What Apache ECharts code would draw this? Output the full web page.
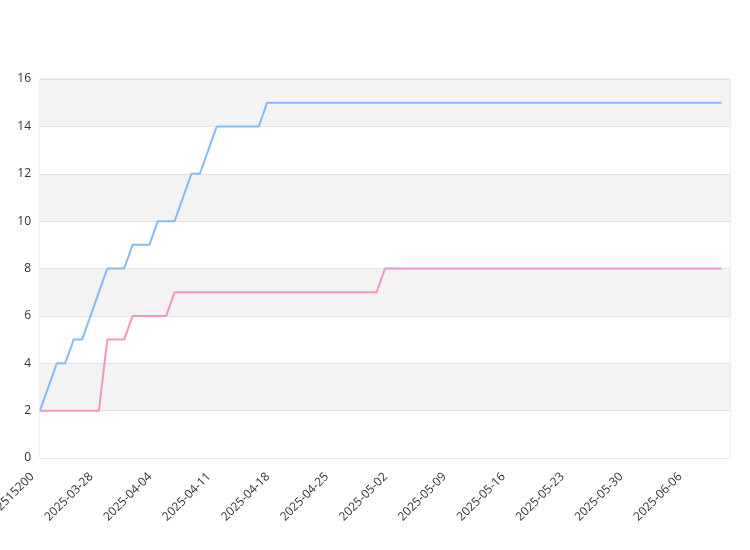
<!DOCTYPE html>
<html>
<head>
<meta charset="utf-8">
<script src="https://cdn.jsdelivr.net/npm/echarts@6/dist/echarts.min.js"></script>
<style>html,body{margin:0;padding:0;background:#fff;}#c{width:750px;height:550px;}</style>
</head>
<body>
<div id="c"></div>
<script>
var categories = [
  '1742515200','2025-03-22','2025-03-23','2025-03-24','2025-03-25','2025-03-26','2025-03-27','2025-03-28','2025-03-29','2025-03-30',
  '2025-03-31','2025-04-01','2025-04-02','2025-04-03','2025-04-04','2025-04-05','2025-04-06','2025-04-07','2025-04-08','2025-04-09',
  '2025-04-10','2025-04-11','2025-04-12','2025-04-13','2025-04-14','2025-04-15','2025-04-16','2025-04-17','2025-04-18','2025-04-19',
  '2025-04-20','2025-04-21','2025-04-22','2025-04-23','2025-04-24','2025-04-25','2025-04-26','2025-04-27','2025-04-28','2025-04-29',
  '2025-04-30','2025-05-01','2025-05-02','2025-05-03','2025-05-04','2025-05-05','2025-05-06','2025-05-07','2025-05-08','2025-05-09',
  '2025-05-10','2025-05-11','2025-05-12','2025-05-13','2025-05-14','2025-05-15','2025-05-16','2025-05-17','2025-05-18','2025-05-19',
  '2025-05-20','2025-05-21','2025-05-22','2025-05-23','2025-05-24','2025-05-25','2025-05-26','2025-05-27','2025-05-28','2025-05-29',
  '2025-05-30','2025-05-31','2025-06-01','2025-06-02','2025-06-03','2025-06-04','2025-06-05','2025-06-06','2025-06-07','2025-06-08',
  '2025-06-09','2025-06-10','2025-06-11'
];
var blueValues = [
  2,3,4,4,5,5,6,7,8,8,
  8,9,9,9,10,10,10,11,12,12,
  13,14,14,14,14,14,14,15,15,15,
  15,15,15,15,15,15,15,15,15,15,
  15,15,15,15,15,15,15,15,15,15,
  15,15,15,15,15,15,15,15,15,15,
  15,15,15,15,15,15,15,15,15,15,
  15,15,15,15,15,15,15,15,15,15,
  15,15
];
var pinkValues = [
  2,2,2,2,2,2,2,2,5,5,
  5,6,6,6,6,6,7,7,7,7,
  7,7,7,7,7,7,7,7,7,7,
  7,7,7,7,7,7,7,7,7,7,
  7,8,8,8,8,8,8,8,8,8,
  8,8,8,8,8,8,8,8,8,8,
  8,8,8,8,8,8,8,8,8,8,
  8,8,8,8,8,8,8,8,8,8,
  8,8
];
var yTicks = [0, 2, 4, 6, 8, 10, 12, 14, 16];

var chart = echarts.init(document.getElementById('c'), null, {renderer: 'canvas'});
chart.setOption({
  animation: false,
  backgroundColor: '#ffffff',
  grid: {left: 40, right: 20, top: 79, bottom: 92, containLabel: false, outerBoundsMode: 'none', show: true, borderColor: '#dddddd', borderWidth: 1, backgroundColor: 'transparent'},
  xAxis: {
    type: 'category',
    data: categories,
    boundaryGap: false,
    axisLine: {show: false},
    axisTick: {show: false},
    splitLine: {show: false},
    axisLabel: {interval: 6, rotate: 45, color: '#333', fontSize: 12, fontFamily: 'Open Sans, sans-serif', margin: 9, padding: [0, 11, 0, 0]}
  },
  yAxis: {
    type: 'value',
    min: yTicks[0],
    max: yTicks[yTicks.length - 1],
    interval: 2,
    axisLine: {show: false},
    axisTick: {show: false},
    axisLabel: {color: '#333', fontSize: 12, fontFamily: 'Open Sans, sans-serif', margin: 9},
    splitLine: {show: true, lineStyle: {color: '#e3e3e3', width: 1}},
    splitArea: {show: true, areaStyle: {color: ['#ffffff', '#f3f3f3']}}
  },
  series: [
    {
      name: 'pink', type: 'line', data: pinkValues,
      symbol: 'none', showSymbol: false,
      lineStyle: {color: '#f295c6', width: 2},
      itemStyle: {color: '#f295c6'}
    },
    {
      name: 'blue', type: 'line', data: blueValues,
      symbol: 'none', showSymbol: false,
      lineStyle: {color: '#86bbf3', width: 2},
      itemStyle: {color: '#86bbf3'}
    }
  ]
});
</script>
</body>
</html>
